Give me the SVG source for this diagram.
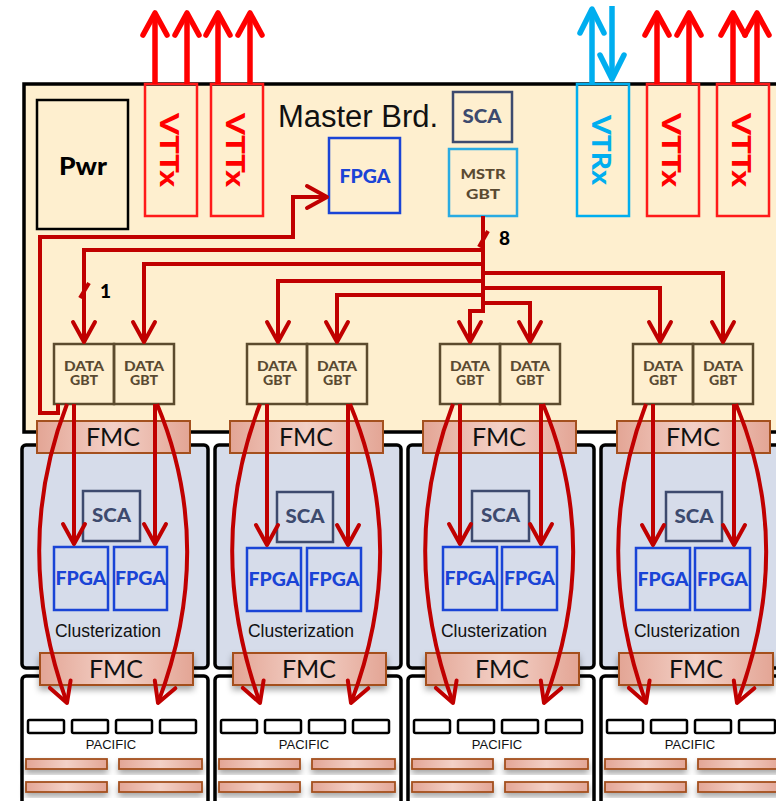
<svg xmlns="http://www.w3.org/2000/svg" width="776" height="801" viewBox="0 0 776 801">
<defs>
  <linearGradient id="fmcGrad" x1="0" y1="0" x2="1" y2="0">
    <stop offset="0" stop-color="#E3A595"/>
    <stop offset="0.5" stop-color="#F3D1C7"/>
    <stop offset="1" stop-color="#E3A595"/>
  </linearGradient>
  <filter id="shadow" x="-10%" y="-30%" width="120%" height="190%">
    <feDropShadow dx="0" dy="4" stdDeviation="3" flood-color="#000" flood-opacity="0.35"/>
  </filter>
  <marker id="arrR" markerUnits="userSpaceOnUse" viewBox="-30 -20 40 40" refX="0" refY="0" markerWidth="40" markerHeight="40" orient="auto" overflow="visible">
    <path d="M-22,-12 L0,0 L-22,12" fill="none" stroke="#FF0000" stroke-width="5.5" stroke-linecap="round" stroke-linejoin="round"/>
  </marker>
  <marker id="arrB" markerUnits="userSpaceOnUse" viewBox="-30 -20 40 40" refX="0" refY="0" markerWidth="40" markerHeight="40" orient="auto" overflow="visible">
    <path d="M-24,-12 L0,0 L-24,12" fill="none" stroke="#00AEEF" stroke-width="5.5" stroke-linecap="round" stroke-linejoin="round"/>
  </marker>
  <marker id="arrD" markerUnits="userSpaceOnUse" viewBox="-30 -20 40 40" refX="0" refY="0" markerWidth="40" markerHeight="40" orient="auto" overflow="visible">
    <path d="M-20,-11 L0,0 L-20,11" fill="none" stroke="#C00000" stroke-width="4" stroke-linecap="round" stroke-linejoin="round"/>
  </marker>
</defs>
<style>
  .board { stroke:#000; stroke-width:3.5; }
  .master { fill:#FEEFCF; }
  .mid { fill:#D6DCEA; }
  .bot { fill:#FFFFFF; }
  .fmc { fill:url(#fmcGrad); stroke:#A4501E; stroke-width:2; }
  .fmcT { font-family:Lato, "Open Sans", sans-serif; font-size:25px; fill:#111; text-anchor:middle; }
  .gbt { fill:none; stroke:#5C4B2E; stroke-width:2.5; }
  .gbtT { font-family:Lato, "Open Sans", sans-serif; font-weight:900; font-size:12.5px; fill:#5A4A32; text-anchor:middle; }
  .fpga { fill:none; stroke:#1A44D6; stroke-width:2.5; }
  .fpgaT { font-family:Lato, "Open Sans", sans-serif; font-weight:900; font-size:18px; fill:#1A44D6; text-anchor:middle; }
  .sca { fill:none; stroke:#3D4A6E; stroke-width:2.5; }
  .scaT { font-family:Lato, "Open Sans", sans-serif; font-weight:900; font-size:18px; fill:#3D4A6E; text-anchor:middle; }
  .helv { font-family:"Liberation Sans", Arial, sans-serif; fill:#111; text-anchor:middle; }
  .vttx { fill:none; stroke:#FF1A1A; stroke-width:2.5; }
  .vttxT { font-family:Lato, "Open Sans", sans-serif; font-weight:900; font-size:27px; fill:#FF0000; text-anchor:middle; }
  .pac { fill:#FFF; stroke:#000; stroke-width:2.5; }
  .bar { fill:url(#fmcGrad); stroke:#A4501E; stroke-width:1.8; }
  .red { fill:none; stroke:#FF0000; stroke-width:5.5; }
  .blue { fill:none; stroke:#00AEEF; stroke-width:5.5; }
  .dred { fill:none; stroke:#C00000; stroke-width:4; stroke-linejoin:miter; }
  .num { font-family:Lato, "Open Sans", sans-serif; font-weight:900; font-size:19px; fill:#000; }
</style>

<!-- Master board -->
<g id="master-board">
  <rect class="board master" x="24" y="84" width="790" height="348"/>
  <text class="helv" x="358" y="127" font-size="31">Master Brd.</text>
</g>
<g id="pwr">
  <rect x="37" y="100" width="91" height="129" fill="none" stroke="#000" stroke-width="2.5"/>
  <text x="83" y="175" font-family="Lato, 'Open Sans', sans-serif" font-weight="900" font-size="25" text-anchor="middle" fill="#000" textLength="48" lengthAdjust="spacingAndGlyphs">Pwr</text>
</g>
<g id="vttx1">
  <rect class="vttx" x="145" y="84" width="52" height="132"/>
  <text class="vttxT" transform="translate(170,150) rotate(90)" y="10" textLength="74" lengthAdjust="spacingAndGlyphs">VTTx</text>
</g>
<g id="vttx2">
  <rect class="vttx" x="211" y="84" width="52" height="132"/>
  <text class="vttxT" transform="translate(236,150) rotate(90)" y="10" textLength="74" lengthAdjust="spacingAndGlyphs">VTTx</text>
</g>
<g id="vtrx">
  <rect x="577" y="84" width="52" height="132" fill="none" stroke="#00AEEF" stroke-width="2.5"/>
  <text class="vttxT" transform="translate(602,150) rotate(90)" y="10" style="fill:#00AEEF" textLength="70" lengthAdjust="spacingAndGlyphs">VTRx</text>
</g>
<g id="vttx3">
  <rect class="vttx" x="647" y="84" width="52" height="132"/>
  <text class="vttxT" transform="translate(672,150) rotate(90)" y="10" textLength="74" lengthAdjust="spacingAndGlyphs">VTTx</text>
</g>
<g id="vttx4">
  <rect class="vttx" x="717" y="84" width="52" height="132"/>
  <text class="vttxT" transform="translate(742,150) rotate(90)" y="10" textLength="74" lengthAdjust="spacingAndGlyphs">VTTx</text>
</g>
<g id="master-fpga">
  <rect class="fpga" x="329" y="138" width="71" height="75"/>
  <text class="fpgaT" x="365" y="183" textLength="51" lengthAdjust="spacingAndGlyphs">FPGA</text>
</g>
<g id="master-sca">
  <rect class="sca" x="453" y="92" width="59" height="50"/>
  <text class="scaT" x="482" y="123" font-size="17" textLength="39" lengthAdjust="spacingAndGlyphs">SCA</text>
</g>
<g id="mstr-gbt">
  <rect x="449" y="149" width="68" height="67" fill="none" stroke="#29ABE2" stroke-width="2.5"/>
  <text class="gbtT" x="483" y="179" font-size="14" textLength="45" lengthAdjust="spacingAndGlyphs">MSTR</text>
  <text class="gbtT" x="483" y="199" font-size="14" textLength="34" lengthAdjust="spacingAndGlyphs">GBT</text>
</g>

<!-- Columns -->
<g id="column1" transform="translate(0,0)">
  <g id="cluster-board1">
    <rect class="board mid" x="22" y="445" width="186" height="223" rx="4"/>
    <text class="helv" x="108" y="637" font-size="17.5">Clusterization</text>
  </g>
  <g id="pacific-board1">
    <rect class="board bot" x="22" y="676" width="186" height="140" rx="4"/>
    <rect class="pac" x="28" y="720" width="36" height="13" rx="1.5"/>
    <rect class="pac" x="72" y="720" width="36" height="13" rx="1.5"/>
    <rect class="pac" x="116" y="720" width="36" height="13" rx="1.5"/>
    <rect class="pac" x="160" y="720" width="36" height="13" rx="1.5"/>
    <text class="helv" x="111" y="749" font-size="13">PACIFIC</text>
    <rect class="bar" x="26" y="759" width="81" height="10" filter="url(#shadow)"/>
    <rect class="bar" x="119" y="759" width="83" height="10" filter="url(#shadow)"/>
    <rect class="bar" x="26" y="782" width="81" height="10" filter="url(#shadow)"/>
    <rect class="bar" x="119" y="782" width="83" height="10" filter="url(#shadow)"/>
  </g>
  <g id="fmc-top1">
    <rect class="fmc" x="37" y="421" width="153" height="32"/>
    <text class="fmcT" x="113" y="446">FMC</text>
  </g>
  <g id="fmc-bot1">
    <rect class="fmc" x="40" y="653" width="153" height="32" filter="url(#shadow)"/>
    <text class="fmcT" x="116" y="678">FMC</text>
  </g>
  <g id="data-gbt1">
    <rect class="gbt" x="54" y="344" width="60" height="60"/>
    <rect class="gbt" x="114" y="344" width="60" height="60"/>
    <text class="gbtT" x="84" y="371" textLength="40" lengthAdjust="spacingAndGlyphs">DATA</text><text class="gbtT" x="84" y="384.5" textLength="28" lengthAdjust="spacingAndGlyphs">GBT</text>
    <text class="gbtT" x="144" y="371" textLength="40" lengthAdjust="spacingAndGlyphs">DATA</text><text class="gbtT" x="144" y="384.5" textLength="28" lengthAdjust="spacingAndGlyphs">GBT</text>
  </g>
  <g id="sca1">
    <rect class="sca" x="83" y="491" width="57" height="50"/>
    <text class="scaT" x="111.5" y="522" textLength="39" lengthAdjust="spacingAndGlyphs">SCA</text>
  </g>
  <g id="fpgas1">
    <rect class="fpga" x="54" y="547" width="54" height="63"/>
    <rect class="fpga" x="114" y="547" width="53" height="63"/>
    <text class="fpgaT" x="81" y="585" textLength="51" lengthAdjust="spacingAndGlyphs">FPGA</text>
    <text class="fpgaT" x="140.5" y="585" textLength="51" lengthAdjust="spacingAndGlyphs">FPGA</text>
  </g>
</g>

<g id="column2" transform="translate(193,0)">
  <g id="cluster-board2">
    <rect class="board mid" x="22" y="445" width="186" height="223" rx="4"/>
    <text class="helv" x="108" y="637" font-size="17.5">Clusterization</text>
  </g>
  <g id="pacific-board2">
    <rect class="board bot" x="22" y="676" width="186" height="140" rx="4"/>
    <rect class="pac" x="28" y="720" width="36" height="13" rx="1.5"/>
    <rect class="pac" x="72" y="720" width="36" height="13" rx="1.5"/>
    <rect class="pac" x="116" y="720" width="36" height="13" rx="1.5"/>
    <rect class="pac" x="160" y="720" width="36" height="13" rx="1.5"/>
    <text class="helv" x="111" y="749" font-size="13">PACIFIC</text>
    <rect class="bar" x="26" y="759" width="81" height="10" filter="url(#shadow)"/>
    <rect class="bar" x="119" y="759" width="83" height="10" filter="url(#shadow)"/>
    <rect class="bar" x="26" y="782" width="81" height="10" filter="url(#shadow)"/>
    <rect class="bar" x="119" y="782" width="83" height="10" filter="url(#shadow)"/>
  </g>
  <g id="fmc-top2">
    <rect class="fmc" x="37" y="421" width="153" height="32"/>
    <text class="fmcT" x="113" y="446">FMC</text>
  </g>
  <g id="fmc-bot2">
    <rect class="fmc" x="40" y="653" width="153" height="32" filter="url(#shadow)"/>
    <text class="fmcT" x="116" y="678">FMC</text>
  </g>
  <g id="data-gbt2">
    <rect class="gbt" x="54" y="344" width="60" height="60"/>
    <rect class="gbt" x="114" y="344" width="60" height="60"/>
    <text class="gbtT" x="84" y="371" textLength="40" lengthAdjust="spacingAndGlyphs">DATA</text><text class="gbtT" x="84" y="384.5" textLength="28" lengthAdjust="spacingAndGlyphs">GBT</text>
    <text class="gbtT" x="144" y="371" textLength="40" lengthAdjust="spacingAndGlyphs">DATA</text><text class="gbtT" x="144" y="384.5" textLength="28" lengthAdjust="spacingAndGlyphs">GBT</text>
  </g>
  <g id="sca2">
    <rect class="sca" x="84" y="492" width="56" height="50"/>
    <text class="scaT" x="112" y="523" textLength="39" lengthAdjust="spacingAndGlyphs">SCA</text>
  </g>
  <g id="fpgas2">
    <rect class="fpga" x="54" y="548" width="54" height="63"/>
    <rect class="fpga" x="114" y="548" width="54" height="63"/>
    <text class="fpgaT" x="81" y="586" textLength="51" lengthAdjust="spacingAndGlyphs">FPGA</text>
    <text class="fpgaT" x="141" y="586" textLength="51" lengthAdjust="spacingAndGlyphs">FPGA</text>
  </g>
</g>

<g id="column3" transform="translate(386,0)">
  <g id="cluster-board3">
    <rect class="board mid" x="22" y="445" width="186" height="223" rx="4"/>
    <text class="helv" x="108" y="637" font-size="17.5">Clusterization</text>
  </g>
  <g id="pacific-board3">
    <rect class="board bot" x="22" y="676" width="186" height="140" rx="4"/>
    <rect class="pac" x="28" y="720" width="36" height="13" rx="1.5"/>
    <rect class="pac" x="72" y="720" width="36" height="13" rx="1.5"/>
    <rect class="pac" x="116" y="720" width="36" height="13" rx="1.5"/>
    <rect class="pac" x="160" y="720" width="36" height="13" rx="1.5"/>
    <text class="helv" x="111" y="749" font-size="13">PACIFIC</text>
    <rect class="bar" x="26" y="759" width="81" height="10" filter="url(#shadow)"/>
    <rect class="bar" x="119" y="759" width="83" height="10" filter="url(#shadow)"/>
    <rect class="bar" x="26" y="782" width="81" height="10" filter="url(#shadow)"/>
    <rect class="bar" x="119" y="782" width="83" height="10" filter="url(#shadow)"/>
  </g>
  <g id="fmc-top3">
    <rect class="fmc" x="37" y="421" width="153" height="32"/>
    <text class="fmcT" x="113" y="446">FMC</text>
  </g>
  <g id="fmc-bot3">
    <rect class="fmc" x="40" y="653" width="153" height="32" filter="url(#shadow)"/>
    <text class="fmcT" x="116" y="678">FMC</text>
  </g>
  <g id="data-gbt3">
    <rect class="gbt" x="54" y="344" width="60" height="60"/>
    <rect class="gbt" x="114" y="344" width="60" height="60"/>
    <text class="gbtT" x="84" y="371" textLength="40" lengthAdjust="spacingAndGlyphs">DATA</text><text class="gbtT" x="84" y="384.5" textLength="28" lengthAdjust="spacingAndGlyphs">GBT</text>
    <text class="gbtT" x="144" y="371" textLength="40" lengthAdjust="spacingAndGlyphs">DATA</text><text class="gbtT" x="144" y="384.5" textLength="28" lengthAdjust="spacingAndGlyphs">GBT</text>
  </g>
  <g id="sca3">
    <rect class="sca" x="86" y="491" width="57" height="50"/>
    <text class="scaT" x="114.5" y="522" textLength="39" lengthAdjust="spacingAndGlyphs">SCA</text>
  </g>
  <g id="fpgas3">
    <rect class="fpga" x="57" y="547" width="54" height="63"/>
    <rect class="fpga" x="116" y="547" width="55" height="63"/>
    <text class="fpgaT" x="84" y="585" textLength="51" lengthAdjust="spacingAndGlyphs">FPGA</text>
    <text class="fpgaT" x="143.5" y="585" textLength="51" lengthAdjust="spacingAndGlyphs">FPGA</text>
  </g>
</g>

<g id="column4" transform="translate(579,0)">
  <g id="cluster-board4">
    <rect class="board mid" x="22" y="445" width="186" height="223" rx="4"/>
    <text class="helv" x="108" y="637" font-size="17.5">Clusterization</text>
  </g>
  <g id="pacific-board4">
    <rect class="board bot" x="22" y="676" width="186" height="140" rx="4"/>
    <rect class="pac" x="28" y="720" width="36" height="13" rx="1.5"/>
    <rect class="pac" x="72" y="720" width="36" height="13" rx="1.5"/>
    <rect class="pac" x="116" y="720" width="36" height="13" rx="1.5"/>
    <rect class="pac" x="160" y="720" width="36" height="13" rx="1.5"/>
    <text class="helv" x="111" y="749" font-size="13">PACIFIC</text>
    <rect class="bar" x="26" y="759" width="81" height="10" filter="url(#shadow)"/>
    <rect class="bar" x="119" y="759" width="83" height="10" filter="url(#shadow)"/>
    <rect class="bar" x="26" y="782" width="81" height="10" filter="url(#shadow)"/>
    <rect class="bar" x="119" y="782" width="83" height="10" filter="url(#shadow)"/>
  </g>
  <g id="fmc-top4">
    <rect class="fmc" x="38" y="421" width="153" height="32"/>
    <text class="fmcT" x="114" y="446">FMC</text>
  </g>
  <g id="fmc-bot4">
    <rect class="fmc" x="40" y="653" width="154" height="32" filter="url(#shadow)"/>
    <text class="fmcT" x="117" y="678">FMC</text>
  </g>
  <g id="data-gbt4">
    <rect class="gbt" x="54" y="344" width="60" height="60"/>
    <rect class="gbt" x="114" y="344" width="60" height="60"/>
    <text class="gbtT" x="84" y="371" textLength="40" lengthAdjust="spacingAndGlyphs">DATA</text><text class="gbtT" x="84" y="384.5" textLength="28" lengthAdjust="spacingAndGlyphs">GBT</text>
    <text class="gbtT" x="144" y="371" textLength="40" lengthAdjust="spacingAndGlyphs">DATA</text><text class="gbtT" x="144" y="384.5" textLength="28" lengthAdjust="spacingAndGlyphs">GBT</text>
  </g>
  <g id="sca4">
    <rect class="sca" x="87" y="492" width="56" height="49"/>
    <text class="scaT" x="115" y="523" textLength="39" lengthAdjust="spacingAndGlyphs">SCA</text>
  </g>
  <g id="fpgas4">
    <rect class="fpga" x="57" y="548" width="54" height="62"/>
    <rect class="fpga" x="116" y="548" width="55" height="62"/>
    <text class="fpgaT" x="84" y="586" textLength="51" lengthAdjust="spacingAndGlyphs">FPGA</text>
    <text class="fpgaT" x="143.5" y="586" textLength="51" lengthAdjust="spacingAndGlyphs">FPGA</text>
  </g>
</g>

<!-- Connectors -->
<g id="connectors">
  <path class="red" d="M155,84 V13" marker-end="url(#arrR)"/>
  <path class="red" d="M187,84 V13" marker-end="url(#arrR)"/>
  <path class="red" d="M218,84 V13" marker-end="url(#arrR)"/>
  <path class="red" d="M250,84 V13" marker-end="url(#arrR)"/>
  <path class="red" d="M657,84 V13" marker-end="url(#arrR)"/>
  <path class="red" d="M689,84 V13" marker-end="url(#arrR)"/>
  <path class="red" d="M733,84 V13" marker-end="url(#arrR)"/>
  <path class="red" d="M757,84 V13" marker-end="url(#arrR)"/>
  <path class="blue" d="M592,84 V9" marker-end="url(#arrB)"/>
  <path class="blue" d="M612,6 V79" marker-end="url(#arrB)"/>

  <path class="dred" d="M58,404 V413 H40 V237 H293 V197 H327" marker-end="url(#arrD)"/>

  <path class="dred" d="M483,216 V311 H470 V342" marker-end="url(#arrD)"/>
  <path class="dred" d="M483,250 H84 V342" marker-end="url(#arrD)"/>
  <path class="dred" d="M483,264 H144 V342" marker-end="url(#arrD)"/>
  <path class="dred" d="M483,281 H278 V342" marker-end="url(#arrD)"/>
  <path class="dred" d="M483,295 H337 V342" marker-end="url(#arrD)"/>
  <path class="dred" d="M483,273 H723 V342" marker-end="url(#arrD)"/>
  <path class="dred" d="M483,288 H660 V342" marker-end="url(#arrD)"/>
  <path class="dred" d="M483,303 H530 V342" marker-end="url(#arrD)"/>
  <path class="dred" d="M479,247 L488,231" stroke-width="3"/>
  <path class="dred" d="M80,298 L89,283" stroke-width="3"/>

  <g id="col-links1">
    <path class="dred" d="M74,404 V544" marker-end="url(#arrD)"/>
    <path class="dred" d="M155,404 V544" marker-end="url(#arrD)"/>
    <path class="dred" d="M67,404 C30,500 30,600 67,703" marker-end="url(#arrD)"/>
    <path class="dred" d="M157,404 C197,500 197,600 158,703" marker-end="url(#arrD)"/>
  </g>
  <g id="col-links2" transform="translate(193,0)">
    <path class="dred" d="M74,404 V545" marker-end="url(#arrD)"/>
    <path class="dred" d="M155,404 V545" marker-end="url(#arrD)"/>
    <path class="dred" d="M67,404 C30,500 30,600 67,703" marker-end="url(#arrD)"/>
    <path class="dred" d="M157,404 C197,500 197,600 158,703" marker-end="url(#arrD)"/>
  </g>
  <g id="col-links3" transform="translate(386,0)">
    <path class="dred" d="M74,404 V544" marker-end="url(#arrD)"/>
    <path class="dred" d="M155,404 V544" marker-end="url(#arrD)"/>
    <path class="dred" d="M67,404 C30,500 30,600 67,703" marker-end="url(#arrD)"/>
    <path class="dred" d="M157,404 C197,500 197,600 158,703" marker-end="url(#arrD)"/>
  </g>
  <g id="col-links4" transform="translate(579,0)">
    <path class="dred" d="M74,404 V545" marker-end="url(#arrD)"/>
    <path class="dred" d="M155,404 V545" marker-end="url(#arrD)"/>
    <path class="dred" d="M67,404 C30,500 30,600 67,703" marker-end="url(#arrD)"/>
    <path class="dred" d="M157,404 C197,500 197,600 158,703" marker-end="url(#arrD)"/>
  </g>
  <text class="num" x="499" y="245">8</text>
  <text class="num" x="100" y="298">1</text>
</g>
</svg>
